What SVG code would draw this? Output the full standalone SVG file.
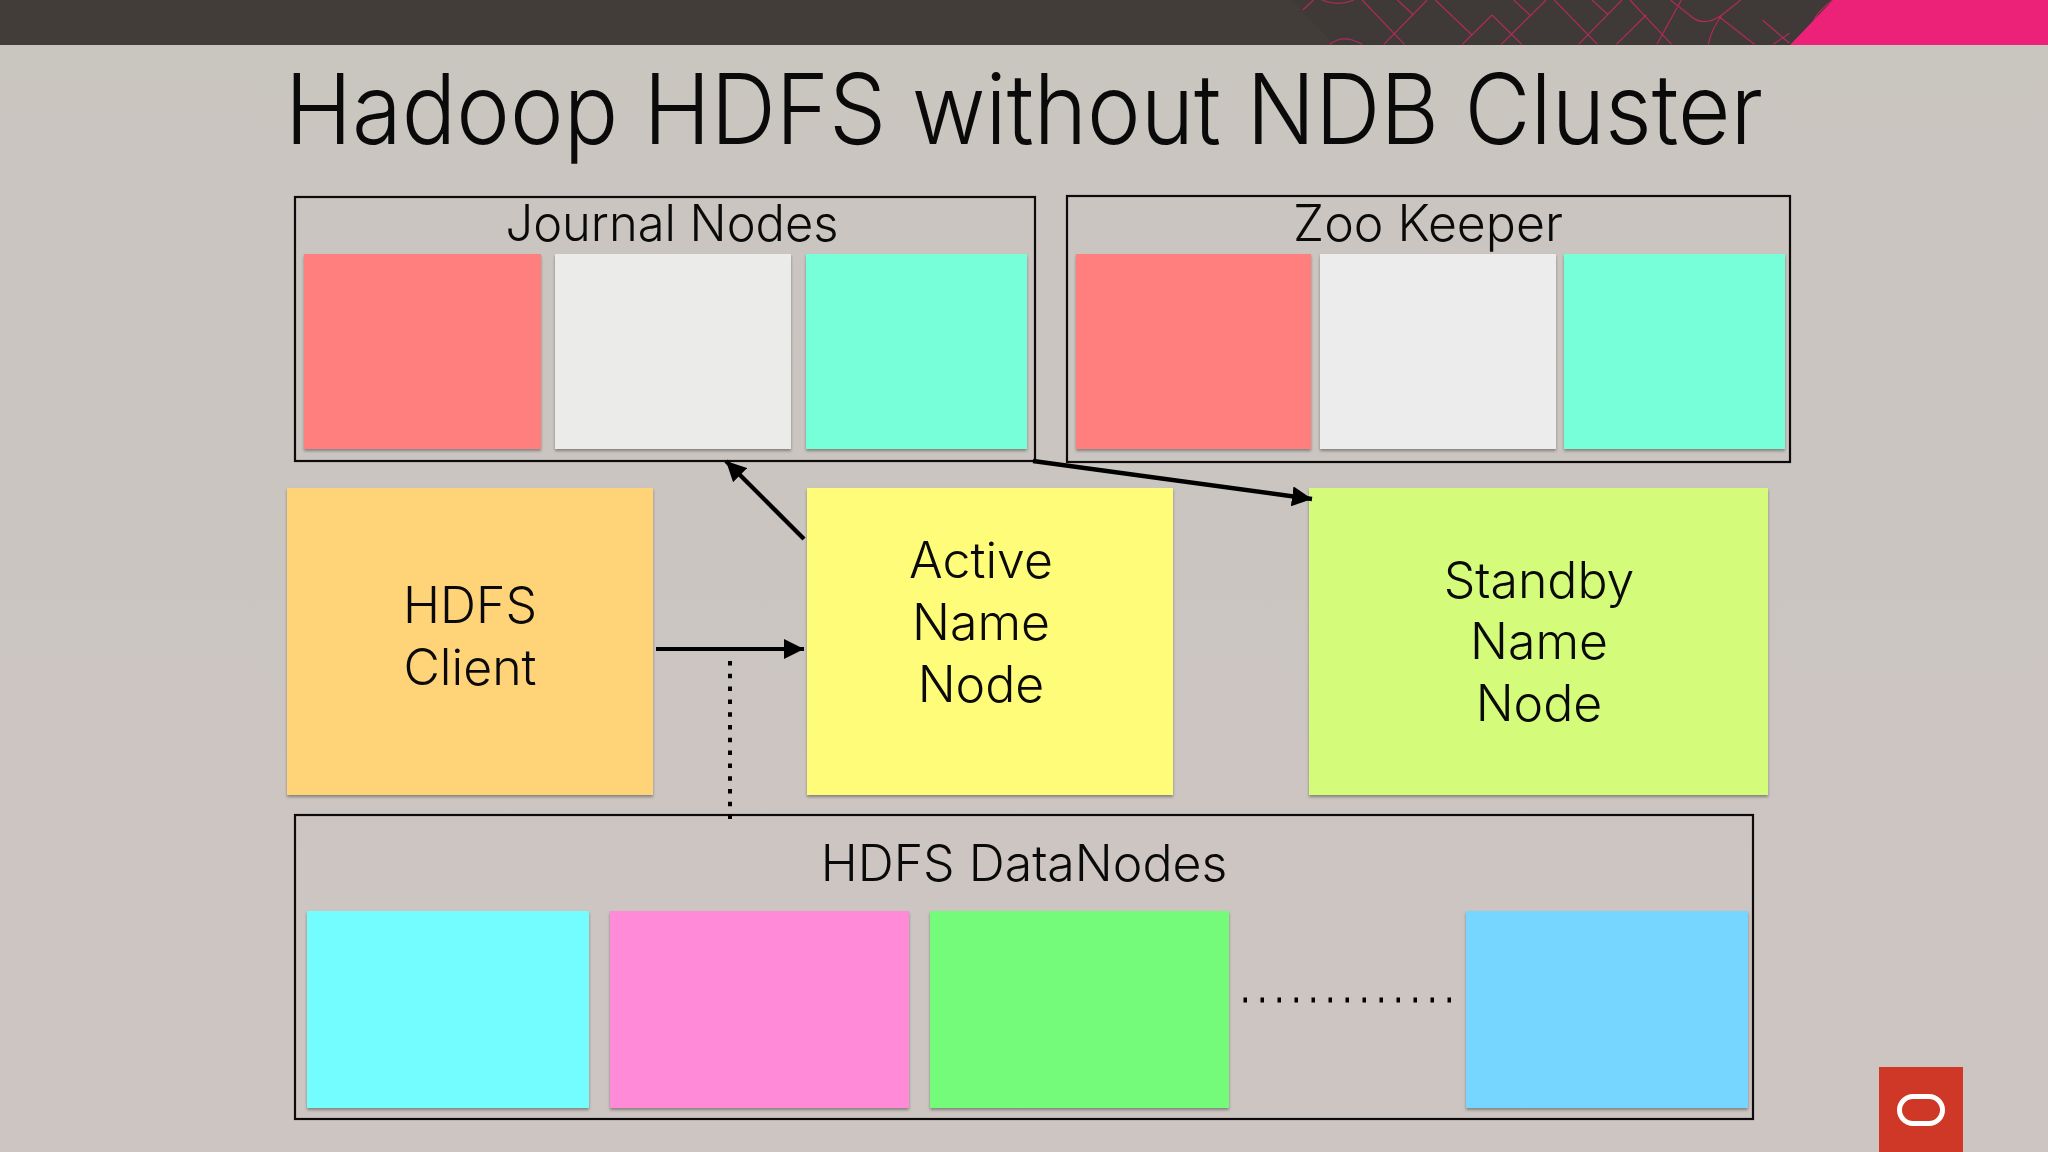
<svg xmlns="http://www.w3.org/2000/svg" width="2048" height="1152" viewBox="0 0 2048 1152">
<style>
text{font-family:"Inter","Liberation Sans",sans-serif;font-weight:300;fill:#0a0a0a;text-anchor:middle}
.lbl{font-size:50px}
.frame{fill:none;stroke:#0c0a0a;stroke-width:2.2}
.card{filter:url(#sh)}
.conn{stroke:#000;fill:none}
.pat{fill:none;stroke:#b02a5c;stroke-width:1.2;vector-effect:non-scaling-stroke}
</style>
<defs>
<filter id="sh" x="-5%" y="-5%" width="110%" height="110%"><feDropShadow dx="0" dy="2" stdDeviation="1.5" flood-color="#000" flood-opacity=".35"/></filter>
<marker id="ah" viewBox="0 0 20 20" refX="20" refY="10" markerUnits="userSpaceOnUse" markerWidth="20" markerHeight="20" orient="auto"><path d="M0,0L20,10L0,20z" fill="#000"/></marker>
<linearGradient id="bg" x1="0" y1="0" x2="0" y2="1"><stop offset="0" stop-color="#c9c5bf"/><stop offset="1" stop-color="#cdc5c2"/></linearGradient>
</defs>
<rect id="background" width="2048" height="1152" fill="url(#bg)"/>
<g id="header">
<rect width="2048" height="45" fill="#423d39"/>
<path d="M1292,0L1335,45L1790,45L1833,0z" fill="#3f3a37"/>
<g transform="translate(1200,0) scale(.5408,.3333)"><path class="pat" d="M190,30L210,0M300,0L378,133M420,0L340,133M365,0L395,45M435,0L503,105M540,45L485,133M540,45L595,133M640,0L557,133M580,0L610,45M655,0L735,133M780,0L700,133M725,0L755,45M825,45L770,133M795,0L872,133M890,0L845,133M870,0L905,45Q930,85 965,45M1000,0L965,45Q945,90 940,133M960,50L1025,133M1040,60L1090,130M1090,100L1060,133M225,0Q255,20 285,0M240,133Q265,100 300,133M1135,60Q1145,30 1170,0"/></g>
<path d="M1790,45L1833,0L2048,0L2048,45z" fill="#ec2178"/>
</g>
<text id="title" x="1024" y="144" font-size="98" textLength="1478" lengthAdjust="spacingAndGlyphs">Hadoop HDFS without NDB Cluster</text>
<g id="journal-nodes">
<rect class="frame" x="295" y="197" width="740" height="264"/>
<text class="lbl" x="672" y="241" textLength="333" lengthAdjust="spacingAndGlyphs">Journal Nodes</text>
<rect class="card" x="304" y="254" width="237" height="195" fill="#ff7e7e"/>
<rect class="card" x="555" y="254" width="236" height="195" fill="#ebebe9"/>
<rect class="card" x="806" y="254" width="221" height="195" fill="#76ffd8"/>
</g>
<g id="zoo-keeper">
<rect class="frame" x="1067" y="196" width="723" height="266"/>
<text class="lbl" x="1428" y="241">Zoo Keeper</text>
<rect class="card" x="1076" y="254" width="235" height="195" fill="#ff7e7e"/>
<rect class="card" x="1320" y="254" width="236" height="195" fill="#ececec"/>
<rect class="card" x="1564" y="254" width="221" height="195" fill="#76ffd8"/>
</g>
<g id="hdfs-client">
<rect class="card" x="287" y="488" width="366" height="307" fill="#ffd479"/>
<text class="lbl" x="470" y="623">HDFS</text><text class="lbl" x="470" y="685">Client</text>
</g>
<g id="active-name-node">
<rect class="card" x="807" y="488" width="366" height="307" fill="#fffc79"/>
<text class="lbl" x="981" y="578">Active</text><text class="lbl" x="981" y="640">Name</text><text class="lbl" x="981" y="702">Node</text>
</g>
<g id="standby-name-node">
<rect class="card" x="1309" y="488" width="459" height="307" fill="#d4fb79"/>
<text class="lbl" x="1539" y="598">Standby</text><text class="lbl" x="1539" y="659">Name</text><text class="lbl" x="1539" y="721">Node</text>
</g>
<g id="hdfs-datanodes">
<rect class="frame" x="295" y="815" width="1458" height="304"/>
<text class="lbl" x="1024" y="881">HDFS DataNodes</text>
<rect class="card" x="307" y="911" width="282" height="197" fill="#73fdff"/>
<rect class="card" x="610" y="911" width="299" height="197" fill="#ff8ad8"/>
<rect class="card" x="930" y="911" width="299" height="197" fill="#75fb7a"/>
<rect class="card" x="1466" y="911" width="282" height="197" fill="#76d6ff"/>
</g>
<g id="connectors">
<line class="conn" stroke-width="4.4" x1="804" y1="539" x2="726" y2="461" marker-end="url(#ah)"/>
<line class="conn" stroke-width="4.4" x1="1033" y1="461" x2="1312" y2="499" marker-end="url(#ah)"/>
<line class="conn" stroke-width="4.2" x1="656" y1="649" x2="804" y2="649" marker-end="url(#ah)"/>
<line class="conn" stroke-width="4" stroke-dasharray="4.5 8.3" x1="730" y1="661" x2="730" y2="820"/>
<line class="conn" stroke-width="5" stroke-dasharray="3.5 13.5" x1="1243.5" y1="1000" x2="1452" y2="1000"/>
</g>
<g id="oracle-logo">
<rect x="1879" y="1067" width="84" height="85" fill="#cf3826"/>
<rect x="1899.500" y="1096.500" width="43" height="27" rx="13.500" ry="13.500" fill="none" stroke="#fff" stroke-width="5"/>
</g>
</svg>
